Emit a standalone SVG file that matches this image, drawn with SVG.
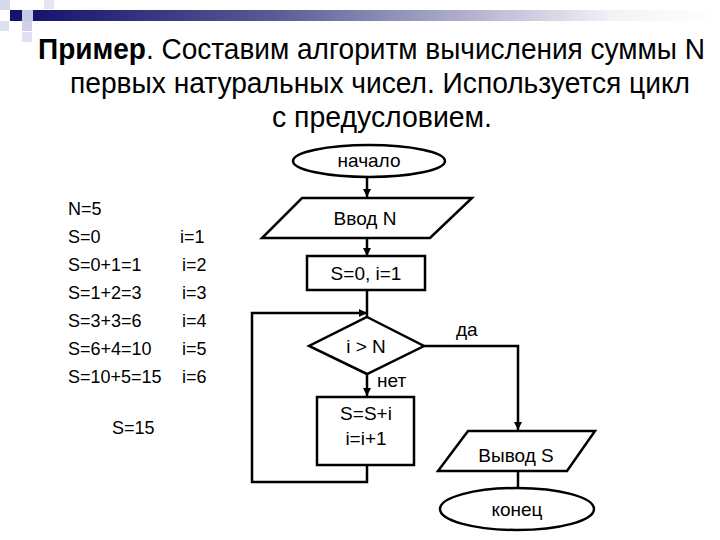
<svg xmlns="http://www.w3.org/2000/svg" width="720" height="540" viewBox="0 0 720 540">
<defs>
<linearGradient id="bar" x1="0" y1="0" x2="1" y2="0">
<stop offset="0" stop-color="#14146e"/>
<stop offset="0.35" stop-color="#5a5a96"/>
<stop offset="0.85" stop-color="#f4f4f8"/>
<stop offset="1" stop-color="#ffffff"/>
</linearGradient>
<marker id="ah" viewBox="0 0 10 10" refX="10" refY="5" markerWidth="8" markerHeight="8" orient="auto" markerUnits="userSpaceOnUse">
<path d="M0,0 L10,5 L0,10 z" fill="#000"/>
</marker>
<style>
.s{fill:#fff;stroke:#000;stroke-width:2.5}
.c{fill:none;stroke:#000;stroke-width:2.5}
.t{font-family:"Liberation Sans",Arial,sans-serif;font-size:19px;fill:#000}
.l{font-family:"Liberation Sans",Arial,sans-serif;font-size:18px;fill:#000}
.m{text-anchor:middle}
.h{font-family:"Liberation Sans",Arial,sans-serif;font-size:26px;fill:#000}
</style>
</defs>
<rect width="720" height="540" fill="#fff"/>
<g id="decor">
<rect x="0" y="0" width="10" height="10" fill="#d8d8ec"/>
<rect x="44" y="0" width="10" height="9" fill="#e4e4f2"/>
<rect x="33" y="10" width="687" height="11" fill="url(#bar)"/>
<rect x="22" y="10" width="11" height="11" fill="#c8c8e4"/>
<rect x="10" y="10" width="12" height="11" fill="#14146e"/>
<rect x="0" y="21" width="9" height="10" fill="#e0e0f0"/>
<rect x="22" y="21" width="10" height="10" fill="#d0d0e8"/>
<rect x="22" y="32" width="10" height="10" fill="#e0e0f0"/>
</g>
<g id="title">
<text class="h" transform="translate(38,59) scale(1,1.15)" x="0" y="0" textLength="667" lengthAdjust="spacingAndGlyphs"><tspan font-weight="bold">Пример</tspan>. Составим алгоритм вычисления суммы N</text>
<text class="h" transform="translate(70,93) scale(1,1.15)" x="0" y="0" textLength="620" lengthAdjust="spacingAndGlyphs">первых натуральных чисел. Используется цикл</text>
<text class="h" transform="translate(272,127) scale(1,1.15)" x="0" y="0" textLength="220" lengthAdjust="spacingAndGlyphs">с предусловием.</text>
</g>
<g id="trace">
<text class="l" x="68" y="215">N=5</text>
<text class="l" x="68" y="243">S=0</text>
<text class="l" x="68" y="271">S=0+1=1</text>
<text class="l" x="68" y="299">S=1+2=3</text>
<text class="l" x="68" y="327">S=3+3=6</text>
<text class="l" x="68" y="355">S=6+4=10</text>
<text class="l" x="68" y="383">S=10+5=15</text>
<text class="l" x="180" y="243">i=1</text>
<text class="l" x="182" y="271">i=2</text>
<text class="l" x="182" y="299">i=3</text>
<text class="l" x="182" y="327">i=4</text>
<text class="l" x="182" y="355">i=5</text>
<text class="l" x="182" y="383">i=6</text>
<text class="l" x="112" y="434">S=15</text>
</g>
<g id="connectors">
<line class="c" x1="367" y1="176" x2="367" y2="197" marker-end="url(#ah)"/>
<line class="c" x1="367" y1="238" x2="367" y2="256" marker-end="url(#ah)"/>
<line class="c" x1="367" y1="290" x2="367" y2="317"/>
<polyline class="c" points="367,465 367,482 252,482 252,313 367,313" marker-end="url(#ah)"/>
<line class="c" x1="367" y1="374" x2="367" y2="396" marker-end="url(#ah)"/>
<polyline class="c" points="424,346 518,346 518,430" marker-end="url(#ah)"/>
<line class="c" x1="518" y1="471" x2="518" y2="488"/>
<text class="t" x="456" y="336">да</text>
<text class="t" x="377" y="387">нет</text>
</g>
<g id="start">
<ellipse class="s" cx="369" cy="161" rx="76" ry="16"/>
<text class="t m" x="369" y="167">начало</text>
</g>
<g id="input">
<polygon class="s" points="302,198 472,198 430,238 262,238"/>
<text class="t m" x="365" y="225">Ввод N</text>
</g>
<g id="init">
<rect class="s" x="307" y="256" width="118" height="34"/>
<text class="t m" x="366" y="280">S=0, i=1</text>
</g>
<g id="cond">
<polygon class="s" points="367,317 424,346 367,374 309,346"/>
<text class="t m" x="366" y="353">i &gt; N</text>
</g>
<g id="body">
<rect class="s" x="317" y="397" width="97" height="68"/>
<text class="t m" x="366" y="420">S=S+i</text>
<text class="t m" x="366" y="445">i=i+1</text>
</g>
<g id="output">
<polygon class="s" points="468,431 595,431 567,471 438,471"/>
<text class="t m" x="516" y="462">Вывод S</text>
</g>
<g id="end">
<ellipse class="s" cx="517" cy="509" rx="77" ry="21"/>
<text class="t m" x="517" y="516">конец</text>
</g>
</svg>
